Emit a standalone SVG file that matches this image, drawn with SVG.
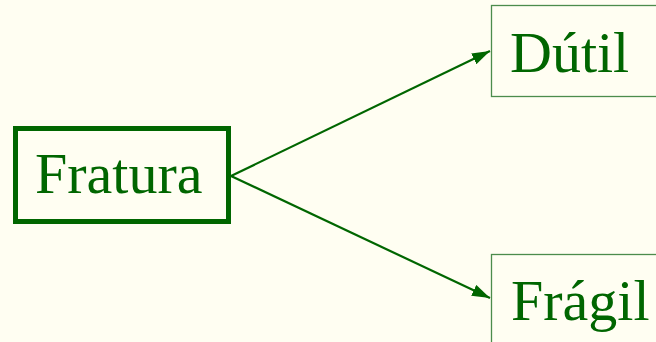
<svg xmlns="http://www.w3.org/2000/svg" width="656" height="342" viewBox="0 0 656 342">
<defs>
<style>
.lbl{font-family:"Liberation Serif","Times New Roman",serif;fill:#006600;font-size:58px}
.edge{stroke:#006600;stroke-width:2.2;fill:none}
</style>
<marker id="ah" viewBox="0 0 18 12" refX="18" refY="6" markerWidth="18" markerHeight="12" markerUnits="userSpaceOnUse" orient="auto">
<path d="M0,0 L18,6 L0,12 Z" fill="#006600"/>
</marker>
</defs>
<rect width="656" height="342" fill="#FFFEF2"/>
<g id="connectors">
<line class="edge" x1="231" y1="176" x2="490" y2="51" marker-end="url(#ah)"/>
<line class="edge" x1="231" y1="176" x2="490" y2="298" marker-end="url(#ah)"/>
</g>
<g id="fratura">
<rect x="15.5" y="128.5" width="213" height="93" fill="none" stroke="#006600" stroke-width="5"/>
<text class="lbl" x="35" y="193">Fratura</text>
</g>
<g id="dutil">
<rect x="491.5" y="5.5" width="170" height="91" fill="none" stroke="#4C8C4C" stroke-width="1.3"/>
<text class="lbl" x="510" y="72">Dútil</text>
</g>
<g id="fragil">
<rect x="491.5" y="254.5" width="170" height="100" fill="none" stroke="#4C8C4C" stroke-width="1.3"/>
<text class="lbl" x="511" y="320">Frágil</text>
</g>
</svg>
